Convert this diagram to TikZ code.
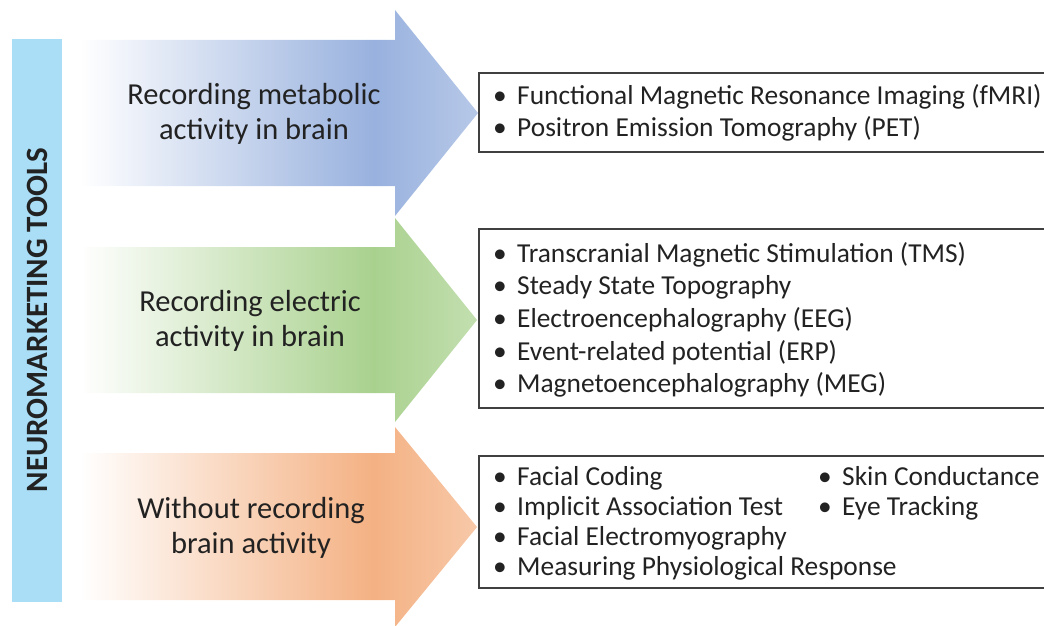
\documentclass[tikz,border=0pt]{standalone}
\usepackage{fontspec}
\setmainfont{Carlito}
\usepackage{tikz}

\definecolor{metablue}{HTML}{98B1DE}
\definecolor{elecgreen}{HTML}{A9D18E}
\definecolor{noorange}{HTML}{F4B183}
\definecolor{barblue}{HTML}{A9DEF6}
\definecolor{textdark}{HTML}{222222}

\pgfdeclarehorizontalshading{bluefade}{100bp}{color(0bp)=(white); color(25bp)=(white); color(62bp)=(metablue); color(75bp)=(metablue!70); color(100bp)=(metablue!70)}
\pgfdeclarehorizontalshading{greenfade}{100bp}{color(0bp)=(white); color(25bp)=(white); color(62bp)=(elecgreen); color(75bp)=(elecgreen!70); color(100bp)=(elecgreen!70)}
\pgfdeclarehorizontalshading{orangefade}{100bp}{color(0bp)=(white); color(25bp)=(white); color(62bp)=(noorange); color(75bp)=(noorange!70); color(100bp)=(noorange!70)}

\begin{document}
\begin{tikzpicture}[x=1pt, y=-1pt,
    every node/.style={text=textdark},
    label/.style={align=center, font=\fontsize{30.5}{35}\selectfont},
    listbox/.style={draw=black!75, line width=1.3pt},
    item/.style={anchor=base west, inner sep=0pt, font=\fontsize{27.4}{30}\selectfont}]
        \useasboundingbox (0,0) rectangle (1044,626);
        % side bar
        \fill[barblue] (12,39) rectangle (62,602);
        \node[rotate=90, font=\fontsize{31}{34}\selectfont\bfseries](tools) at (37,320) {NEUROMARKETING TOOLS};

        % arrows
        \path[shading=bluefade] (80,40) -- (395,40) -- (395,10) -- (478,113) -- (395,216) -- (395,186) -- (80,186) -- cycle;
        \path[shading=greenfade] (80,247) -- (395,247) -- (395,218) -- (477,320) -- (395,422) -- (395,393) -- (80,393) -- cycle;
        \path[shading=orangefade] (80,453) -- (395,453) -- (395,427) -- (477,527) -- (395,627) -- (395,600) -- (80,600) -- cycle;

        \node[label](metabolic) at (254,114) {Recording metabolic\\activity in brain};
        \node[label](electric) at (250,321) {Recording electric\\activity in brain};
        \node[label](without) at (251,528) {Without recording\\brain activity};

        % boxes
        \draw[listbox] (479,73) rectangle (1052,152);
        \draw[listbox] (479,229) rectangle (1052,408);
        \draw[listbox] (479,456) rectangle (1052,588);

        \node[item](fmri) at (493,104) {\makebox[24pt][l]{•}Functional Magnetic Resonance Imaging (fMRI)};
        \node[item](pet) at (493,136) {\makebox[24pt][l]{•}Positron Emission Tomography (PET)};

        \node[item](tms) at (493,262) {\makebox[24pt][l]{•}Transcranial Magnetic Stimulation (TMS)};
        \node[item](sst) at (493,294) {\makebox[24pt][l]{•}Steady State Topography};
        \node[item](eeg) at (493,327) {\makebox[24pt][l]{•}Electroencephalography (EEG)};
        \node[item](erp) at (493,360) {\makebox[24pt][l]{•}Event-related potential (ERP)};
        \node[item](meg) at (493,392) {\makebox[24pt][l]{•}Magnetoencephalography (MEG)};

        \node[item](coding) at (493,485) {\makebox[24pt][l]{•}Facial Coding};
        \node[item](iat) at (493,515) {\makebox[24pt][l]{•}Implicit Association Test};
        \node[item](emg) at (493,545) {\makebox[24pt][l]{•}Facial Electromyography};
        \node[item](physio) at (493,575) {\makebox[24pt][l]{•}Measuring Physiological Response};
        \node[item](skin) at (818,485) {\makebox[24pt][l]{•}Skin Conductance};
        \node[item](eye) at (818,515) {\makebox[24pt][l]{•}Eye Tracking};
    \end{tikzpicture}
\end{document}
